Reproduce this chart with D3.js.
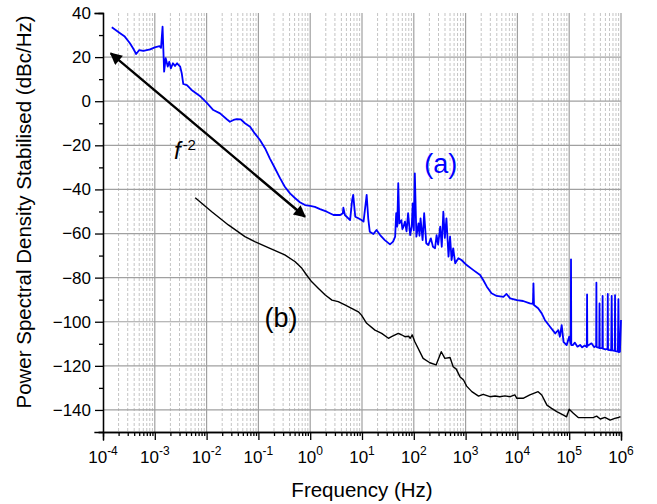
<!DOCTYPE html>
<html>
<head>
<meta charset="utf-8">
<script src="https://cdn.jsdelivr.net/npm/d3@7"></script>
<style>
	body { margin: 0; background: #fff; }
	text { font-family: "Liberation Sans", Arial, sans-serif; }
</style>
</head>
<body>
<svg id="chart" width="657" height="504"></svg>
<script>
// log10 of frequency (Hz) and PSD (dBc/Hz)
var aLogF = [-3.83, -3.67, -3.58, -3.48, -3.42, -3.36, -3.30, -3.22, -3.09, -3.00, -2.91, -2.88, -2.85, -2.82, -2.79, -2.75, -2.72, -2.69, -2.65, -2.61, -2.57, -2.51, -2.48, -2.45, -2.38, -2.29, -2.13, -2.00, -1.87, -1.74, -1.61, -1.55, -1.48, -1.42, -1.34, -1.26, -1.16, -1.07, -0.97, -0.87, -0.78, -0.68, -0.58, -0.49, -0.39, -0.29, -0.20, -0.10, 0.00, 0.09, 0.19, 0.32, 0.45, 0.58, 0.63, 0.64, 0.67, 0.77, 0.81, 0.83, 0.87, 0.93, 0.99, 1.03, 1.09, 1.12, 1.15, 1.22, 1.28, 1.35, 1.44, 1.54, 1.60, 1.64, 1.66, 1.68, 1.70, 1.72, 1.76, 1.78, 1.80, 1.83, 1.86, 1.89, 1.93, 1.96, 1.98, 2.00, 2.02, 2.05, 2.09, 2.11, 2.13, 2.17, 2.20, 2.24, 2.28, 2.33, 2.37, 2.41, 2.44, 2.47, 2.51, 2.54, 2.57, 2.60, 2.63, 2.67, 2.70, 2.73, 2.76, 2.80, 2.86, 2.92, 3.02, 3.15, 3.28, 3.34, 3.41, 3.50, 3.60, 3.73, 3.79, 3.86, 3.99, 4.11, 4.24, 4.30, 4.31, 4.32, 4.40, 4.47, 4.53, 4.63, 4.73, 4.79, 4.82, 4.855, 4.89, 4.95, 5.00, 5.03, 5.035, 5.04, 5.07, 5.11, 5.16, 5.21, 5.25, 5.30, 5.34, 5.345, 5.35, 5.43, 5.48, 5.52, 5.525, 5.53, 5.58, 5.585, 5.59, 5.64, 5.645, 5.65, 5.70, 5.74, 5.745, 5.75, 5.81, 5.82, 5.83, 5.88, 5.885, 5.89, 5.94, 5.95, 5.96, 5.98, 6.00];
var aPsd = [33.5, 30.8, 29.3, 26.3, 24.0, 21.4, 23.2, 22.8, 23.5, 24.4, 25.0, 24.2, 33.8, 13.4, 19.5, 15.7, 17.9, 14.9, 17.2, 16.0, 17.2, 15.7, 12.7, 7.8, 7.3, 5.1, 2.4, -0.6, -4.0, -5.5, -8.2, -9.3, -8.5, -8.1, -8.2, -10.0, -11.6, -14.6, -17.6, -21.4, -25.9, -30.4, -35.0, -38.8, -41.8, -44.0, -45.8, -47.1, -47.5, -47.9, -48.9, -50.1, -51.6, -51.6, -50.8, -48.3, -51.6, -53.9, -44.8, -42.5, -52.4, -53.1, -53.9, -54.6, -42.5, -53.1, -59.2, -60.2, -58.4, -60.7, -63.0, -64.9, -63.7, -61.4, -50.8, -56.9, -37.2, -55.4, -54.0, -58.0, -56.9, -54.6, -59.0, -50.8, -60.7, -56.9, -46.3, -58.5, -32.7, -61.4, -55.4, -61.0, -53.1, -63.0, -50.8, -64.4, -65.2, -62.2, -66.0, -66.7, -60.7, -65.0, -56.9, -66.0, -50.1, -62.0, -53.1, -70.5, -61.4, -72.0, -66.7, -73.5, -71.2, -72.0, -74.3, -76.6, -78.8, -81.1, -84.1, -87.1, -88.3, -88.7, -87.4, -89.4, -90.2, -90.6, -91.7, -91.9, -82.6, -92.4, -93.9, -96.2, -99.2, -102.3, -105.3, -103.8, -106.8, -101.5, -109.1, -110.6, -106.8, -110.0, -71.7, -110.6, -110.6, -109.5, -111.3, -110.5, -111.6, -110.8, -111.5, -87.6, -111.0, -109.8, -111.5, -111.0, -82.3, -111.5, -111.8, -91.7, -112.0, -112.0, -88.3, -112.2, -112.5, -112.3, -87.4, -112.8, -113.0, -88.3, -113.0, -113.2, -87.9, -113.3, -113.5, -89.8, -113.8, -113.6, -99.2];

var bLogF = [-2.22, -1.90, -1.58, -1.26, -1.07, -0.81, -0.49, -0.29, -0.16, -0.07, 0.03, 0.16, 0.29, 0.42, 0.54, 0.67, 0.80, 0.93, 0.99, 1.09, 1.25, 1.38, 1.51, 1.57, 1.70, 1.76, 1.83, 1.90, 1.93, 1.97, 2.02, 2.18, 2.31, 2.43, 2.53, 2.60, 2.70, 2.76, 2.82, 2.89, 2.96, 3.02, 3.12, 3.25, 3.34, 3.47, 3.57, 3.66, 3.76, 3.86, 3.95, 3.99, 4.11, 4.24, 4.40, 4.47, 4.57, 4.66, 4.76, 4.89, 4.95, 5.00, 5.08, 5.18, 5.34, 5.47, 5.53, 5.60, 5.69, 5.79, 5.88, 5.95, 5.99];
var bPsd = [-43.8, -50.1, -56.1, -61.4, -63.7, -66.4, -69.7, -72.8, -75.8, -78.8, -81.9, -84.9, -87.9, -90.2, -90.9, -92.4, -93.9, -95.5, -97.0, -100.7, -103.8, -105.3, -107.5, -106.8, -105.3, -105.9, -106.8, -106.6, -107.5, -106.0, -109.1, -116.6, -118.6, -119.6, -113.6, -116.6, -116.2, -120.4, -121.5, -124.9, -126.4, -129.2, -131.7, -133.7, -132.9, -134.0, -133.7, -134.0, -133.6, -134.0, -133.2, -134.7, -134.7, -133.2, -131.7, -133.2, -137.8, -139.3, -140.8, -142.3, -143.1, -139.7, -141.5, -143.5, -143.5, -143.4, -142.8, -144.1, -143.4, -144.6, -143.8, -143.4, -143.1];

var decades = [-4, -3, -2, -1, 0, 1, 2, 3, 4, 5, 6];
var yMajor = [-140, -120, -100, -80, -60, -40, -20, 0, 20, 40];
var yMinor = [-150, -130, -110, -90, -70, -50, -30, -10, 10, 30];

// f^-2 guide arrow, ends given as [log10 f, dB]
var slopeArrow = [[-3.85, 21.7], [-0.10, -52.4]];

var svg = d3.select("#chart");
var x = d3.scaleLog().domain([1e-4, 1e6]).range([103, 621]);
var y = d3.scaleLinear().domain([-150, 40]).range([432, 13]);

var minorF = [];
decades.slice(0, -1).forEach(function(e) {
	for (var k = 2; k <= 9; k++) minorF.push(k * Math.pow(10, e));
});
var majorF = decades.map(function(e) { return Math.pow(10, e); });

// grid
var grid = svg.append("g");
grid.selectAll(".vminor").data(minorF).enter().append("line")
	.attr("x1", function(d) { return x(d); }).attr("x2", function(d) { return x(d); })
	.attr("y1", y(40)).attr("y2", y(-150))
	.attr("stroke", "#c4c4c4").attr("stroke-width", 1).attr("stroke-dasharray", "3,2");
grid.selectAll(".vmajor").data(majorF.slice(1)).enter().append("line")
	.attr("x1", function(d) { return x(d); }).attr("x2", function(d) { return x(d); })
	.attr("y1", y(40)).attr("y2", y(-150))
	.attr("stroke", "#a0a0a0").attr("stroke-width", 1.2);
grid.selectAll(".hmajor").data(yMajor.slice(0, -1)).enter().append("line")
	.attr("x1", x(1e-4)).attr("x2", x(1e6))
	.attr("y1", function(d) { return y(d); }).attr("y2", function(d) { return y(d); })
	.attr("stroke", "#a0a0a0").attr("stroke-width", 1.2);

// series
var line = d3.line()
	.x(function(d) { return x(Math.pow(10, d[0])); })
	.y(function(d) { return y(d[1]); });
var seriesA = aLogF.map(function(v, i) { return [v, aPsd[i]]; });
var seriesB = bLogF.map(function(v, i) { return [v, bPsd[i]]; });
svg.append("path").datum(seriesB)
	.attr("fill", "none").attr("stroke", "#000").attr("stroke-width", 1.4)
	.attr("stroke-linejoin", "round").attr("d", line);
svg.append("path").datum(seriesA)
	.attr("fill", "none").attr("stroke", "#0000ff").attr("stroke-width", 1.8)
	.attr("stroke-linejoin", "round").attr("d", line);

// axes
var xAxis = svg.append("g").attr("transform", "translate(0," + y(-150) + ")");
xAxis.call(d3.axisBottom(x).tickValues(minorF).tickSize(4).tickFormat(""));
xAxis.append("g").call(d3.axisBottom(x).tickValues(majorF).tickSize(8).tickFormat(""));
xAxis.selectAll("path, line").attr("stroke", "#000").attr("stroke-width", 1.3);

var yAxis = svg.append("g").attr("transform", "translate(" + x(1e-4) + ",0)");
yAxis.call(d3.axisLeft(y).tickValues(yMinor).tickSize(4).tickFormat(""));
yAxis.append("g").call(d3.axisLeft(y).tickValues(yMajor).tickSize(8).tickPadding(4));
yAxis.selectAll("path, line").attr("stroke", "#000").attr("stroke-width", 1.3);
yAxis.selectAll("text").attr("font-size", 17).attr("fill", "#000")
	.attr("font-family", "Liberation Sans, Arial, sans-serif");
svg.selectAll(".domain").attr("stroke-linecap", "square");

var xLabels = svg.append("g").selectAll("text").data(decades).enter().append("text")
	.attr("x", function(d) { return x(Math.pow(10, d)); })
	.attr("y", 463)
	.attr("text-anchor", "middle")
	.attr("font-size", 17);
xLabels.append("tspan").text("10");
xLabels.append("tspan").attr("dy", -8).attr("font-size", 12).text(function(d) { return d; });

svg.append("text").attr("x", 362).attr("y", 497).attr("text-anchor", "middle")
	.attr("font-size", 20.5).text("Frequency (Hz)");
svg.append("text").attr("transform", "translate(31,212) rotate(-90)").attr("text-anchor", "middle")
	.attr("font-size", 20.5).text("Power Spectral Density Stabilised (dBc/Hz)");

// annotations
var defs = svg.append("defs");
defs.append("marker").attr("id", "head")
	.attr("viewBox", "0 0 10 10").attr("refX", 9).attr("refY", 5)
	.attr("markerWidth", 6).attr("markerHeight", 5).attr("markerUnits", "strokeWidth")
	.attr("orient", "auto-start-reverse")
	.append("path").attr("d", "M0,0 L10,5 L0,10 z").attr("fill", "#000");
svg.append("line")
	.attr("x1", x(Math.pow(10, slopeArrow[0][0]))).attr("y1", y(slopeArrow[0][1]))
	.attr("x2", x(Math.pow(10, slopeArrow[1][0]))).attr("y2", y(slopeArrow[1][1]))
	.attr("stroke", "#000").attr("stroke-width", 2.4)
	.attr("marker-start", "url(#head)").attr("marker-end", "url(#head)");

var fLabel = svg.append("text").attr("x", x(Math.pow(10, -2.63))).attr("y", y(-26.4))
	.attr("font-family", "Liberation Serif, serif").attr("font-size", 24);
fLabel.append("tspan").attr("font-style", "italic").text("f");
fLabel.append("tspan").attr("dy", -9).attr("dx", 2).attr("font-size", 15).text("-2");

svg.append("text").attr("x", x(Math.pow(10, 2.2))).attr("y", y(-32.5))
	.attr("font-family", "DejaVu Sans, sans-serif").attr("font-size", 27)
	.attr("fill", "#0000ff").text("(a)");
svg.append("text").attr("x", x(Math.pow(10, -0.88))).attr("y", y(-102.3))
	.attr("font-family", "DejaVu Sans, sans-serif").attr("font-size", 27)
	.attr("fill", "#000").text("(b)");
</script>
</body>
</html>
